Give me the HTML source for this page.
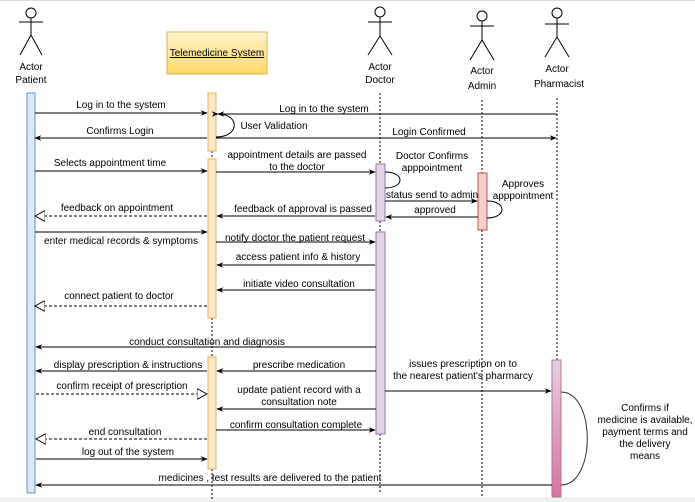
<!DOCTYPE html>
<html><head><meta charset="utf-8"><style>
body{margin:0;background:#fff}
svg{display:block;font-family:"Liberation Sans",Arial,sans-serif;font-size:10px}
</style></head><body>
<svg width="695" height="502" viewBox="0 0 695 502" xmlns="http://www.w3.org/2000/svg">
<defs>
<marker id="a" viewBox="0 0 10 10" refX="9" refY="5" markerWidth="7" markerHeight="7" orient="auto"><path d="M0,1 L10,5 L0,9 L3,5 z" fill="#000"/></marker>
<marker id="o" viewBox="0 0 12 12" refX="11" refY="6" markerWidth="11" markerHeight="11" orient="auto"><path d="M0,0 L11,6 L0,12 z" fill="#fff" stroke="#000"/></marker>
<linearGradient id="pg" x1="0" y1="0" x2="0" y2="1"><stop offset="0" stop-color="#e6d0de"/><stop offset="1" stop-color="#d5739d"/></linearGradient>
<linearGradient id="yg" x1="0" y1="0" x2="0" y2="1"><stop offset="0" stop-color="#fff2cc"/><stop offset="1" stop-color="#ffd966"/></linearGradient>
</defs>
<rect x="0" y="0" width="695" height="1" fill="#ddd"/>
<rect x="0" y="497" width="695" height="5" fill="#f0f0f0"/>
<g stroke="#000" fill="none" stroke-width="1">
<!-- actors -->
<g><circle cx="31" cy="13" r="5"/><path d="M31 18v17M19 22h24M31 35l-11 20M31 35l11 20"/></g>
<g><circle cx="380" cy="12" r="5"/><path d="M380 17v19M368 22h24M380 36l-12 19M380 36l12 19"/></g>
<g><circle cx="482" cy="16" r="5"/><path d="M482 21v19M470 26h24M482 40l-12 20M482 40l12 20"/></g>
<g><circle cx="557" cy="13" r="5"/><path d="M557 18v19M545 24h24M557 37l-12 20M557 37l12 20"/></g>
<!-- lifelines -->
<g stroke-dasharray="2,2"><path d="M212 151v8M212 318v39M212 469v30M380 93v71M380 221v11M380 434v60M482 100v73M482 230v268M557 98v262"/></g>
</g>
<!-- labels actors -->
<g text-anchor="middle" font-size="10"><text x="31" y="70">Actor</text><text x="31" y="83">Patient</text>
<text x="380" y="70">Actor</text><text x="380" y="83">Doctor</text>
<text x="482" y="74">Actor</text><text x="482" y="89">Admin</text>
<text x="557" y="72">Actor</text><text x="559" y="87">Pharmacist</text></g>
<rect x="167" y="32" width="100" height="42" fill="url(#yg)" stroke="#d6b656"/>
<text x="217" y="56" text-anchor="middle" text-decoration="underline">Telemedicine System</text>
<!-- bars -->
<rect x="27" y="93" width="8" height="400" fill="#dae8fc" stroke="#6c8ebf"/>
<rect x="208" y="93" width="8" height="58" fill="#ffe6cc" stroke="#e6b657"/>
<rect x="208" y="159" width="8" height="159" fill="#ffe6cc" stroke="#e6b657"/>
<rect x="208" y="357" width="8" height="112" fill="#ffe6cc" stroke="#e6b657"/>
<rect x="376" y="164" width="9" height="57" fill="#e1d5e7" stroke="#9673a6"/>
<rect x="376" y="232" width="9" height="202" fill="#e1d5e7" stroke="#9673a6"/>
<rect x="478" y="173" width="9" height="57" fill="#f8cecc" stroke="#b85450"/>
<rect x="552" y="360" width="9" height="137" fill="url(#pg)" stroke="#b5739d"/>
<!-- messages -->
<g stroke="#000" fill="none">
<path d="M35 113H207" marker-end="url(#a)"/>
<path d="M557 114H218" marker-end="url(#a)"/>
<path d="M218 114C240 114 240 137 216 137" marker-start="url(#a)"/>
<path d="M207 138H35" marker-end="url(#a)"/>
<path d="M216 138H556" marker-end="url(#a)"/>
<path d="M35 171H207" marker-end="url(#a)"/>
<path d="M216 172H375" marker-end="url(#a)"/>
<path d="M385 172C405 172 405 188 385 188"/>
<path d="M385 201H477" marker-end="url(#a)"/>
<path d="M487 201C507 201 507 218 487 218"/>
<path d="M478 217H386" marker-end="url(#a)"/>
<path d="M375 216H217" marker-end="url(#a)"/>
<path d="M207 216H35" stroke-dasharray="3,2" marker-end="url(#o)"/>
<path d="M35 232H207" marker-end="url(#a)"/>
<path d="M216 242H375" marker-end="url(#a)"/>
<path d="M375 265H217" marker-end="url(#a)"/>
<path d="M375 290H217" marker-end="url(#a)"/>
<path d="M207 306H35" stroke-dasharray="3,2" marker-end="url(#o)"/>
<path d="M376 347H36" marker-end="url(#a)"/>
<path d="M207 371H36" marker-end="url(#a)"/>
<path d="M376 371H217" marker-end="url(#a)"/>
<path d="M36 394H207" stroke-dasharray="3,2" marker-end="url(#o)"/>
<path d="M376 409H217" marker-end="url(#a)"/>
<path d="M216 430H375" marker-end="url(#a)"/>
<path d="M207 439H36" stroke-dasharray="3,2" marker-end="url(#o)"/>
<path d="M36 459H207" marker-end="url(#a)"/>
<path d="M552 485H36" marker-end="url(#a)"/>
<path d="M385 391H551" marker-end="url(#a)"/>
<path d="M561 392C596 392 596 485 561 485" stroke="#333"/>
</g>
<g font-size="10" text-anchor="middle">
<text x="121" y="108">Log in to the system</text>
<text x="324" y="112">Log in to the system</text>
<text x="274" y="129">User Validation</text>
<text x="120" y="134">Confirms Login</text>
<text x="429" y="135">Login Confirmed</text>
<text x="110" y="166">Selects appointment time</text>
<text x="297" y="158">appointment details are passed</text>
<text x="297" y="170">to the doctor</text>
<text x="432" y="159">Doctor Confirms</text>
<text x="432" y="171">apppointment</text>
<text x="432" y="198">status send to admin</text>
<text x="523" y="187">Approves</text>
<text x="523" y="199">apppointment</text>
<text x="435" y="213">approved</text>
<text x="303" y="212">feedback of approval is passed</text>
<text x="117" y="211">feedback on appointment</text>
<text x="121" y="244">enter medical records &amp; symptoms</text>
<text x="295" y="241">notify doctor the patient request</text>
<text x="298" y="260">access patient info &amp; history</text>
<text x="299" y="287">initiate video consultation</text>
<text x="119" y="299">connect patient to doctor</text>
<text x="207" y="345">conduct consultation and diagnosis</text>
<text x="128" y="368">display prescription &amp; instructions</text>
<text x="299" y="368">prescribe medication</text>
<text x="122" y="389">confirm receipt of prescription</text>
<text x="299" y="393">update patient record with a</text>
<text x="299" y="405">consultation note</text>
<text x="296" y="428">confirm consultation complete</text>
<text x="125" y="435">end consultation</text>
<text x="128" y="455">log out of the system</text>
<text x="270" y="481">medicines , test results are delivered to the patient</text>
<text x="463" y="367">issues prescription on to</text>
<text x="463" y="379">the nearest patient's pharmarcy</text>
<text x="645" y="411">Confirms if</text>
<text x="645" y="423">medicine is available,</text>
<text x="645" y="435">payment terms and</text>
<text x="645" y="447">the delivery</text>
<text x="645" y="459">means</text>
</g>
</svg>
</body></html>
